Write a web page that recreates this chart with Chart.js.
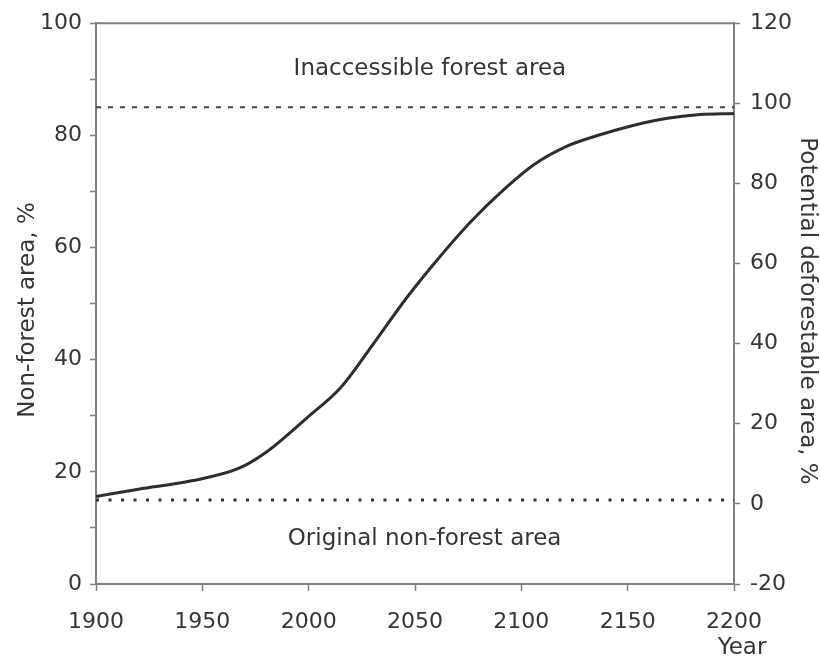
<!DOCTYPE html>
<html><head><meta charset="utf-8">
<script src="https://cdn.jsdelivr.net/npm/chart.js@4/dist/chart.umd.min.js"></script>
<style>html,body{margin:0;padding:0;background:#fff}#wrap{width:820px;height:665px}</style>
</head><body><div id="wrap"><canvas id="c" width="820" height="665"></canvas></div>
<script>
const years = [1900, 1920, 1945, 1967, 1980, 2000, 2015, 2030, 2046, 2062, 2077, 2092, 2106, 2121, 2137, 2153, 2168, 2184, 2200];
const nonForest = [15.6, 16.9, 18.4, 20.6, 23.5, 29.9, 35.0, 42.6, 51.0, 58.5, 64.9, 70.4, 74.8, 78.0, 80.1, 81.8, 83.0, 83.7, 83.9];
const originalLevel = 15;      // left axis, % (dotted line)
const inaccessibleLevel = 85;  // left axis, % (dotted line)
const xTicks = [1900, 1950, 2000, 2050, 2100, 2150, 2200];
const leftTicks = [0, 20, 40, 60, 80, 100];
const rightTicks = [-20, 0, 20, 40, 60, 80, 100, 120];
const leftTitle = 'Non-forest area, %';
const rightTitle = 'Potential deforestable area, %';
const xTitle = 'Year';
const topLabel = 'Inaccessible forest area';
const bottomLabel = 'Original non-forest area';

const FONT = '"DejaVu Sans", sans-serif';
const TXT = '#363636';
const AX = '#808080';

const extras = {
  id: 'extras',
  afterDraw(chart) {
    const {ctx, chartArea: a, scales} = chart;
    const x = scales.x, y = scales.y;
    ctx.save();
    ctx.strokeStyle = AX; ctx.lineWidth = 2;
    ctx.beginPath(); ctx.moveTo(a.left, a.top); ctx.lineTo(a.right, a.top); ctx.stroke();
    ctx.fillStyle = TXT;
    ctx.font = '23px ' + FONT;
    ctx.textAlign = 'center'; ctx.textBaseline = 'middle';
    ctx.fillText(topLabel, x.getPixelForValue(2057), y.getPixelForValue(91.8));
    ctx.fillText(bottomLabel, x.getPixelForValue(2054.5), y.getPixelForValue(8.0));
    ctx.fillText(xTitle, a.right + 8, 648);
    ctx.save();
    ctx.translate(28, 310); ctx.rotate(-Math.PI / 2);
    ctx.fillText(leftTitle, 0, 0); ctx.restore();
    ctx.save();
    ctx.translate(807, 311); ctx.rotate(Math.PI / 2);
    ctx.fillText(rightTitle, 0, 0); ctx.restore();
    ctx.restore();
  }
};

new Chart(document.getElementById('c'), {
  type: 'line',
  data: {
    datasets: [
      { data: years.map((yr, i) => ({x: yr, y: nonForest[i]})), borderColor: '#2e2e2e', borderWidth: 3,
        pointRadius: 0, cubicInterpolationMode: 'monotone', yAxisID: 'y' },
      { data: [{x: years[0], y: inaccessibleLevel}, {x: years[years.length - 1], y: inaccessibleLevel}],
        borderColor: '#444', borderWidth: 2, borderDash: [5, 7], pointRadius: 0, yAxisID: 'y' },
      { data: [{x: years[0], y: originalLevel}, {x: years[years.length - 1], y: originalLevel}],
        borderColor: '#333', borderWidth: 3, borderDash: [3, 9.5], pointRadius: 0, yAxisID: 'y' }
    ]
  },
  options: {
    responsive: false, animation: false, devicePixelRatio: 1,
    layout: { padding: { top: 20, left: 0, right: 0, bottom: 0 } },
    plugins: { legend: { display: false }, tooltip: { enabled: false } },
    scales: {
      x: {
        type: 'linear', min: 1900, max: 2200, position: 'bottom',
        afterFit(s) { s.height = 81; },
        afterBuildTicks(s) { s.ticks = xTicks.map(v => ({value: v})); },
        grid: { drawOnChartArea: false, tickLength: 7, color: AX, tickColor: AX, tickWidth: 1.5 },
        border: { display: true, color: AX, width: 2 },
        ticks: { color: TXT, font: { size: 22, family: FONT }, padding: 18, maxRotation: 0,
          callback: v => String(v) }
      },
      y: {
        type: 'linear', min: 0, max: 100, position: 'left',
        afterFit(s) { s.width = 96; },
        ticks: { stepSize: 10, color: TXT, font: { size: 22, family: FONT }, padding: 8,
          callback: v => leftTicks.includes(v) ? String(v) : '' },
        grid: { drawOnChartArea: false, tickLength: 6, color: AX, tickColor: AX, tickWidth: 1.5 },
        border: { display: true, color: AX, width: 2 }
      },
      y2: {
        type: 'linear', min: -20, max: 120, position: 'right',
        afterFit(s) { s.width = 86; },
        afterBuildTicks(s) { s.ticks = rightTicks.map(v => ({value: v})); },
        ticks: { color: TXT, font: { size: 22, family: FONT }, padding: 10 },
        grid: { drawOnChartArea: false, tickLength: 6, color: AX, tickColor: AX, tickWidth: 1.5 },
        border: { display: true, color: AX, width: 2 }
      }
    }
  },
  plugins: [extras]
});
</script></body></html>
